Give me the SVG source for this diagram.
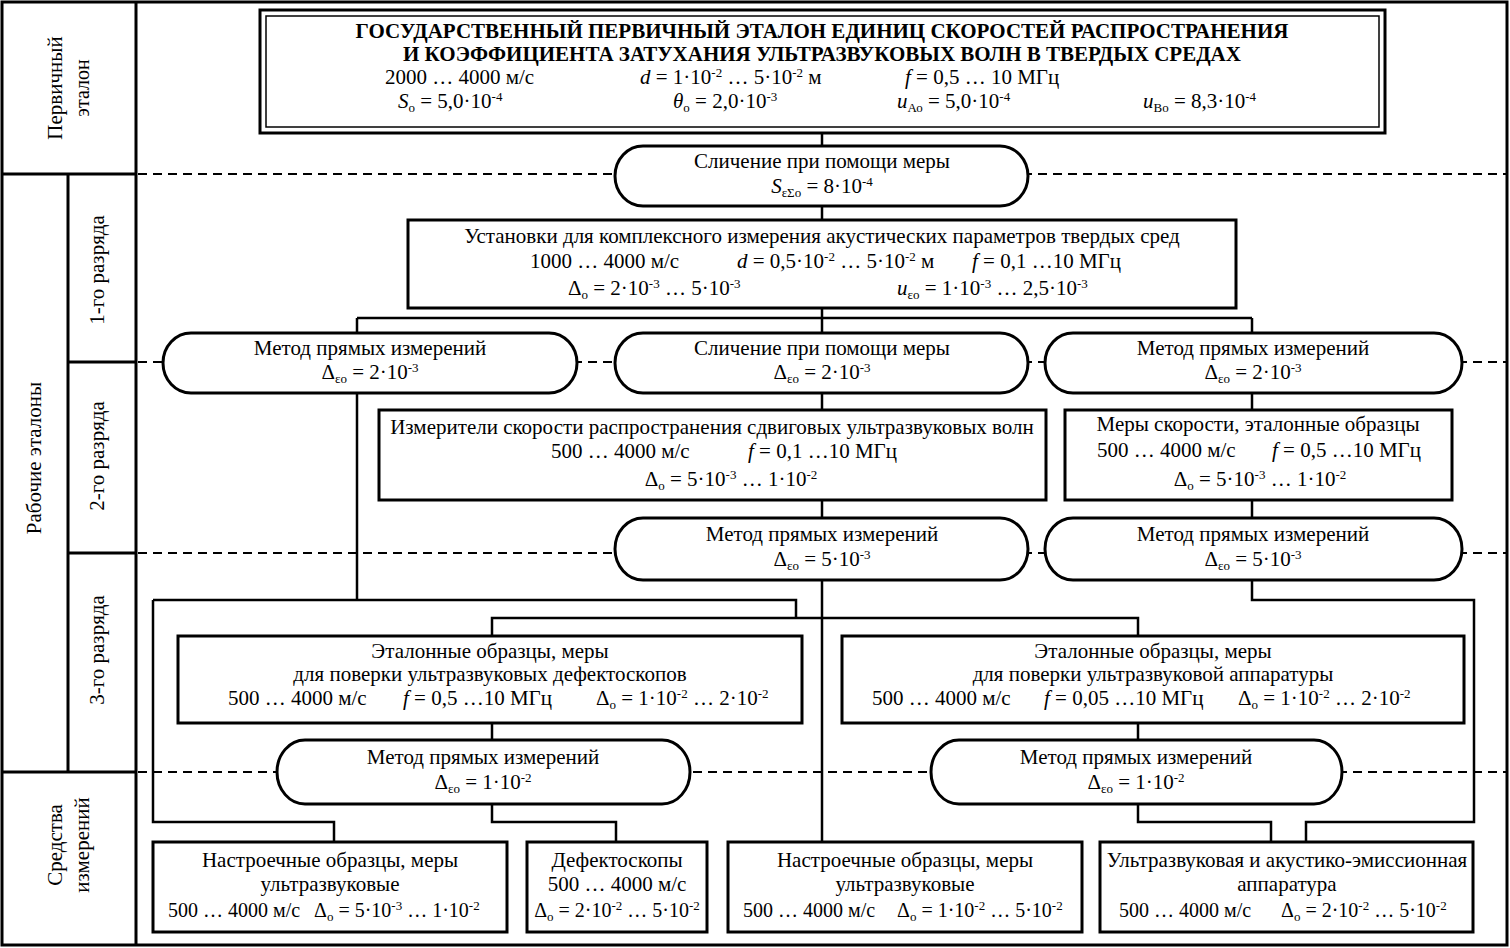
<svg xmlns="http://www.w3.org/2000/svg" width="1510" height="948" viewBox="0 0 1510 948">
<style>
text{font-family:'Liberation Serif','DejaVu Serif',serif;font-size:21px;fill:#000}
.c{text-anchor:middle}
.b{font-weight:bold}
.i{font-style:italic}
.s20{font-size:20px}
.sp{font-size:13px;baseline-shift:7px}
.sb{font-size:13px;baseline-shift:-4px}
.box{fill:#fff;stroke:#000;stroke-width:3}
.ov{fill:#fff;stroke:#000;stroke-width:3}
.ln{fill:none;stroke:#000;stroke-width:2.5}
.fr{fill:none;stroke:#000;stroke-width:3}
.dash{fill:none;stroke:#000;stroke-width:1.8;stroke-dasharray:9 6}
</style>
<rect width="1510" height="948" fill="#fff"/>

<g id="frame">
<rect class="fr" x="2" y="2" width="1505" height="943"/>
<path class="fr" d="M136 2V945M68 174V772M2 174H136M68 362H136M68 553H136M2 772H136"/>
<text class="c" transform="translate(62,88) rotate(-90)">Первичный</text>
<text class="c" transform="translate(89,88) rotate(-90)" style="font-size:20px">эталон</text>
<text class="c" transform="translate(41,458) rotate(-90)">Рабочие эталоны</text>
<text class="c" transform="translate(104,270) rotate(-90)">1-го разряда</text>
<text class="c" transform="translate(104,456) rotate(-90)">2-го разряда</text>
<text class="c" transform="translate(104,650) rotate(-90)">3-го разряда</text>
<text class="c" transform="translate(62,845) rotate(-90)">Средства</text>
<text class="c" transform="translate(89,845) rotate(-90)">измерений</text>
</g>

<g id="levels">
<path class="dash" d="M138 174H1506M138 362H1506M138 553H1506M138 772H1506"/>
</g>

<g id="connectors">
<path class="ln" d="M822 133V146M822 206V220M822 308V333M357 318H1252M357 318V333M1252 318V333"/>
<path class="ln" d="M357 393V600M153 600H796V618M153 600V822H334V842"/>
<path class="ln" d="M822 393V410M1252 393V410M822 500V518M1252 500V518M822 580V842"/>
<path class="ln" d="M492 636V618H1138V636"/>
<path class="ln" d="M1252 580V600H1474V822H1306V842"/>
<path class="ln" d="M492 723V740M1138 723V740"/>
<path class="ln" d="M492 803V822H616V842M1138 803V822H1271V842"/>
</g>

<g id="n-primary">
<rect class="box" x="260" y="10" width="1125" height="123"/>
<rect x="266" y="16" width="1113" height="111" fill="none" stroke="#000" stroke-width="1.5"/>
<text class="c b" x="822" y="38">ГОСУДАРСТВЕННЫЙ ПЕРВИЧНЫЙ ЭТАЛОН ЕДИНИЦ СКОРОСТЕЙ РАСПРОСТРАНЕНИЯ</text>
<text class="c b" x="822" y="61">И КОЭФФИЦИЕНТА ЗАТУХАНИЯ УЛЬТРАЗВУКОВЫХ ВОЛН В ТВЕРДЫХ СРЕДАХ</text>
<text x="385" y="84">2000 … 4000 м/с</text>
<text x="640" y="84"><tspan class="i">d</tspan> = 1·10<tspan class="sp">-2</tspan> … 5·10<tspan class="sp">-2</tspan> м</text>
<text x="905" y="84"><tspan class="i">f</tspan> = 0,5 … 10 МГц</text>
<text x="398" y="108"><tspan class="i">S</tspan><tspan class="sb">о</tspan> = 5,0·10<tspan class="sp">-4</tspan></text>
<text x="673" y="108"><tspan class="i">θ</tspan><tspan class="sb">о</tspan> = 2,0·10<tspan class="sp">-3</tspan></text>
<text x="897" y="108"><tspan class="i">u</tspan><tspan class="sb">Ао</tspan> = 5,0·10<tspan class="sp">-4</tspan></text>
<text x="1143" y="108"><tspan class="i">u</tspan><tspan class="sb">Во</tspan> = 8,3·10<tspan class="sp">-4</tspan></text>
</g>

<g id="n-comp1">
<rect class="ov" x="615" y="146" width="413" height="60" rx="28" ry="30"/>
<text class="c" x="822" y="168">Сличение при помощи меры</text>
<text class="c" x="822" y="193"><tspan class="i">S</tspan><tspan class="sb">εΣо</tspan> = 8·10<tspan class="sp">-4</tspan></text>
</g>

<g id="n-setup">
<rect class="box" x="408" y="220" width="828" height="88"/>
<text class="c" x="822" y="243">Установки для комплексного измерения акустических параметров твердых сред</text>
<text x="530" y="268">1000 … 4000 м/с</text>
<text x="737" y="268"><tspan class="i">d</tspan> = 0,5·10<tspan class="sp">-2</tspan> … 5·10<tspan class="sp">-2</tspan> м</text>
<text x="972" y="268"><tspan class="i">f</tspan> = 0,1 …10 МГц</text>
<text x="568" y="295">Δ<tspan class="sb">о</tspan> = 2·10<tspan class="sp">-3</tspan> … 5·10<tspan class="sp">-3</tspan></text>
<text x="897" y="295"><tspan class="i">u</tspan><tspan class="sb">εо</tspan> = 1·10<tspan class="sp">-3</tspan> … 2,5·10<tspan class="sp">-3</tspan></text>
</g>

<g id="n-m2a">
<rect class="ov" x="163" y="333" width="414" height="60" rx="28" ry="30"/>
<text class="c" x="370" y="355">Метод прямых измерений</text>
<text class="c" x="370" y="379">Δ<tspan class="sb">εо</tspan> = 2·10<tspan class="sp">-3</tspan></text>
</g>
<g id="n-m2b">
<rect class="ov" x="615" y="333" width="413" height="60" rx="28" ry="30"/>
<text class="c" x="822" y="355">Сличение при помощи меры</text>
<text class="c" x="822" y="379">Δ<tspan class="sb">εо</tspan> = 2·10<tspan class="sp">-3</tspan></text>
</g>
<g id="n-m2c">
<rect class="ov" x="1045" y="333" width="417" height="60" rx="28" ry="30"/>
<text class="c" x="1253" y="355">Метод прямых измерений</text>
<text class="c" x="1253" y="379">Δ<tspan class="sb">εо</tspan> = 2·10<tspan class="sp">-3</tspan></text>
</g>

<g id="n-shear">
<rect class="box" x="379" y="410" width="667" height="90"/>
<text class="c" x="712" y="434">Измерители скорости распространения сдвиговых ультразвуковых волн</text>
<text x="551" y="458">500 … 4000 м/с</text>
<text x="748" y="458"><tspan class="i">f</tspan> = 0,1 …10 МГц</text>
<text class="c" x="731" y="486">Δ<tspan class="sb">о</tspan> = 5·10<tspan class="sp">-3</tspan> … 1·10<tspan class="sp">-2</tspan></text>
</g>
<g id="n-speed">
<rect class="box" x="1065" y="410" width="387" height="90"/>
<text class="c" x="1258" y="431">Меры скорости, эталонные образцы</text>
<text x="1097" y="457">500 … 4000 м/с</text>
<text x="1272" y="457"><tspan class="i">f</tspan> = 0,5 …10 МГц</text>
<text class="c" x="1260" y="486">Δ<tspan class="sb">о</tspan> = 5·10<tspan class="sp">-3</tspan> … 1·10<tspan class="sp">-2</tspan></text>
</g>

<g id="n-m3a">
<rect class="ov" x="615" y="518" width="413" height="62" rx="28" ry="31"/>
<text class="c" x="822" y="541">Метод прямых измерений</text>
<text class="c" x="822" y="566">Δ<tspan class="sb">εо</tspan> = 5·10<tspan class="sp">-3</tspan></text>
</g>
<g id="n-m3b">
<rect class="ov" x="1045" y="518" width="417" height="62" rx="28" ry="31"/>
<text class="c" x="1253" y="541">Метод прямых измерений</text>
<text class="c" x="1253" y="566">Δ<tspan class="sb">εо</tspan> = 5·10<tspan class="sp">-3</tspan></text>
</g>

<g id="n-ref-def">
<rect class="box" x="178" y="636" width="624" height="87"/>
<text class="c" x="490" y="658">Эталонные образцы, меры</text>
<text class="c" x="490" y="681">для поверки ультразвуковых дефектоскопов</text>
<text x="228" y="705">500 … 4000 м/с</text>
<text x="403" y="705"><tspan class="i">f</tspan> = 0,5 …10 МГц</text>
<text x="596" y="705">Δ<tspan class="sb">о</tspan> = 1·10<tspan class="sp">-2</tspan> … 2·10<tspan class="sp">-2</tspan></text>
</g>
<g id="n-ref-app">
<rect class="box" x="842" y="636" width="622" height="87"/>
<text class="c" x="1153" y="658">Эталонные образцы, меры</text>
<text class="c" x="1153" y="681">для поверки ультразвуковой аппаратуры</text>
<text x="872" y="705">500 … 4000 м/с</text>
<text x="1044" y="705"><tspan class="i">f</tspan> = 0,05 …10 МГц</text>
<text x="1238" y="705">Δ<tspan class="sb">о</tspan> = 1·10<tspan class="sp">-2</tspan> … 2·10<tspan class="sp">-2</tspan></text>
</g>

<g id="n-m4a">
<rect class="ov" x="277" y="740" width="413" height="64" rx="28" ry="32"/>
<text class="c" x="483" y="764">Метод прямых измерений</text>
<text class="c" x="483" y="789">Δ<tspan class="sb">εо</tspan> = 1·10<tspan class="sp">-2</tspan></text>
</g>
<g id="n-m4b">
<rect class="ov" x="931" y="740" width="411" height="64" rx="28" ry="32"/>
<text class="c" x="1136" y="764">Метод прямых измерений</text>
<text class="c" x="1136" y="789">Δ<tspan class="sb">εо</tspan> = 1·10<tspan class="sp">-2</tspan></text>
</g>

<g id="n-tune1">
<rect class="box" x="153" y="842" width="354" height="90"/>
<text class="c" x="330" y="867">Настроечные образцы, меры</text>
<text class="c" x="330" y="891">ультразвуковые</text>
<text class="s20" x="168" y="917">500 … 4000 м/с</text>
<text class="s20" x="314" y="917">Δ<tspan class="sb">о</tspan> = 5·10<tspan class="sp">-3</tspan> … 1·10<tspan class="sp">-2</tspan></text>
</g>
<g id="n-defect">
<rect class="box" x="527" y="842" width="180" height="90"/>
<text class="c" x="617" y="867">Дефектоскопы</text>
<text class="c" x="617" y="891">500 … 4000 м/с</text>
<text class="c s20" x="617" y="917">Δ<tspan class="sb">о</tspan> = 2·10<tspan class="sp">-2</tspan> … 5·10<tspan class="sp">-2</tspan></text>
</g>
<g id="n-tune2">
<rect class="box" x="728" y="842" width="354" height="90"/>
<text class="c" x="905" y="867">Настроечные образцы, меры</text>
<text class="c" x="905" y="891">ультразвуковые</text>
<text class="s20" x="743" y="917">500 … 4000 м/с</text>
<text class="s20" x="897" y="917">Δ<tspan class="sb">о</tspan> = 1·10<tspan class="sp">-2</tspan> … 5·10<tspan class="sp">-2</tspan></text>
</g>
<g id="n-acoustic">
<rect class="box" x="1100" y="842" width="373" height="90"/>
<text class="c" x="1287" y="867">Ультразвуковая и акустико-эмиссионная</text>
<text class="c" x="1287" y="891">аппаратура</text>
<text class="s20" x="1119" y="917">500 … 4000 м/с</text>
<text class="s20" x="1281" y="917">Δ<tspan class="sb">о</tspan> = 2·10<tspan class="sp">-2</tspan> … 5·10<tspan class="sp">-2</tspan></text>
</g>
</svg>
